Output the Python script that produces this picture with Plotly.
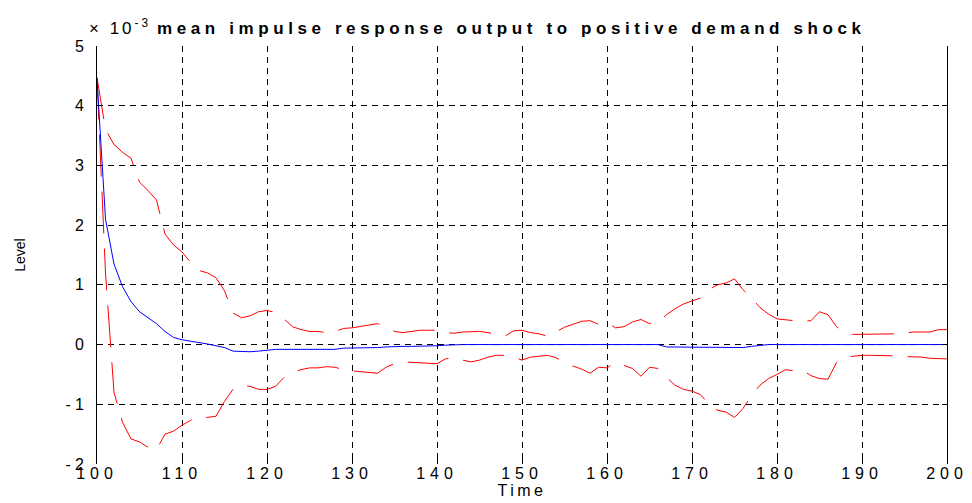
import plotly.graph_objects as go

FONT = "Liberation Sans, Arial, sans-serif"

# horizon (time index) and responses, in units of 1e-3
time = list(range(100, 201))

mean_response = [
    4.45, 2.10, 1.35, 0.97, 0.72, 0.55, 0.45, 0.35, 0.22, 0.12,
    0.08, 0.06, 0.03, 0.01, -0.02, -0.05, -0.11, -0.12, -0.12, -0.11,
    -0.09, -0.08, -0.08, -0.08, -0.08, -0.08, -0.08, -0.08, -0.08, -0.06,
    -0.06, -0.06, -0.05, -0.05, -0.04, -0.03, -0.03, -0.03, -0.03, -0.03,
    -0.02, -0.01, 0.00, 0.00, 0.00, 0.00, 0.00, 0.00, 0.00, 0.00,
    0.00, 0.00, 0.00, 0.00, 0.00, 0.00, 0.00, 0.00, 0.00, 0.00,
    0.00, 0.00, 0.00, 0.00, 0.00, 0.00, 0.00, -0.04, -0.04, -0.04,
    -0.04, -0.04, -0.04, -0.05, -0.05, -0.05, -0.05, -0.03, -0.01, 0.00,
    0.00, 0.00, 0.00, 0.00, 0.00, 0.00, 0.00, 0.00, 0.00, 0.00,
    0.00, 0.00, 0.00, 0.00, 0.00, 0.00, 0.00, 0.00, 0.00, 0.00,
    0.00,
]

upper_band = [
    4.47, 3.60, 3.35, 3.22, 3.12, 2.72, 2.58, 2.42, 1.85, 1.67,
    1.55, 1.38, 1.24, 1.20, 1.12, 0.90, 0.53, 0.45, 0.48, 0.55,
    0.57, 0.54, 0.43, 0.30, 0.25, 0.22, 0.22, 0.20, 0.22, 0.27,
    0.28, 0.30, 0.33, 0.35, 0.30, 0.22, 0.20, 0.22, 0.24, 0.24,
    0.24, 0.20, 0.19, 0.21, 0.22, 0.22, 0.20, 0.17, 0.14, 0.23,
    0.24, 0.20, 0.18, 0.14, 0.22, 0.29, 0.34, 0.39, 0.40, 0.34,
    0.37, 0.28, 0.30, 0.38, 0.42, 0.35, 0.37, 0.50, 0.60, 0.68,
    0.73, 0.78, 0.92, 1.00, 1.03, 1.10, 0.92, 0.78, 0.62, 0.51,
    0.43, 0.41, 0.40, 0.39, 0.40, 0.55, 0.50, 0.30, 0.20, 0.17,
    0.17, 0.17, 0.17, 0.17, 0.18, 0.19, 0.21, 0.21, 0.21, 0.25,
    0.25,
]

lower_band = [
    4.47, 1.20, -0.80, -1.30, -1.58, -1.63, -1.72, -1.76, -1.50, -1.45,
    -1.35, -1.27, -1.21, -1.22, -1.20, -0.95, -0.75, -0.68, -0.70, -0.75,
    -0.75, -0.70, -0.55, -0.47, -0.42, -0.39, -0.39, -0.37, -0.38, -0.42,
    -0.44, -0.45, -0.47, -0.48, -0.38, -0.32, -0.29, -0.30, -0.30, -0.31,
    -0.32, -0.24, -0.22, -0.26, -0.29, -0.26, -0.21, -0.18, -0.18, -0.21,
    -0.26, -0.21, -0.20, -0.18, -0.22, -0.30, -0.36, -0.41, -0.48, -0.38,
    -0.39, -0.30, -0.35, -0.40, -0.53, -0.38, -0.40, -0.55, -0.68, -0.75,
    -0.78, -0.84, -1.00, -1.10, -1.13, -1.22, -1.07, -0.85, -0.68, -0.57,
    -0.50, -0.42, -0.44, -0.43, -0.52, -0.57, -0.58, -0.30, -0.21, -0.19,
    -0.18, -0.18, -0.18, -0.18, -0.19, -0.20, -0.20, -0.21, -0.23, -0.24,
    -0.24,
]

x_ticks = list(range(100, 201, 10))
y_ticks = [-2, -1, 0, 1, 2, 3, 4, 5]


def spaced(text, spacing=4):
    # the reference text is drawn horizontally stretched; widen with letter spacing
    return f'<span style="letter-spacing:{spacing}px">{text}</span>'


fig = go.Figure()
fig.add_trace(go.Scatter(x=time, y=upper_band, mode="lines",
                         line=dict(color="#ff0000", width=1, dash="42px,15px")))
fig.add_trace(go.Scatter(x=time, y=lower_band, mode="lines",
                         line=dict(color="#ff0000", width=1, dash="42px,15px")))
fig.add_trace(go.Scatter(x=time, y=mean_response, mode="lines",
                         line=dict(color="#0000ff", width=1)))

axis_common = dict(
    showgrid=True,
    gridcolor="#000000",
    gridwidth=1,
    griddash="6px,5px",
    zeroline=False,
    ticks="inside",
    ticklen=5,
    tickcolor="#000000",
    mirror="ticks",
    tickfont=dict(family=FONT, size=16, color="#000000"),
)

fig.update_layout(
    width=972,
    height=503,
    margin=dict(l=86, r=27, t=38, b=47),
    paper_bgcolor="white",
    plot_bgcolor="white",
    showlegend=False,
    font=dict(family=FONT, color="#000000"),
    xaxis=dict(
        range=[100, 200],
        tickvals=x_ticks,
        ticktext=[spaced(t, 5) for t in x_ticks],
        ticklabelstandoff=-2,
        title=dict(text=spaced("Time", 3.5), font=dict(family=FONT, size=16), standoff=0),
        showline=False,
        **axis_common,
    ),
    yaxis=dict(
        range=[-2, 5],
        tickvals=y_ticks,
        ticktext=[spaced(t, 4) for t in y_ticks],
        ticklabelstandoff=5,
        title=dict(text="Level", font=dict(family=FONT, size=14), standoff=36),
        showline=True,
        linecolor="#000000",
        linewidth=1,
        **axis_common,
    ),
    annotations=[
        dict(
            text=spaced("× 10<sup>-3</sup>", 3),
            xref="paper", yref="paper", x=-10 / 859, y=1.0,
            xanchor="left", yanchor="bottom", yshift=6,
            showarrow=False, font=dict(family=FONT, size=17),
        ),
        dict(
            text=spaced("<b>mean impulse response output to positive demand shock</b>", 4.6),
            xref="paper", yref="paper", x=(145 - 86) / 859, y=1.0,
            xanchor="left", yanchor="bottom", yshift=6,
            showarrow=False, font=dict(family=FONT, size=17),
        ),
    ],
)

fig.write_html("out.html")
